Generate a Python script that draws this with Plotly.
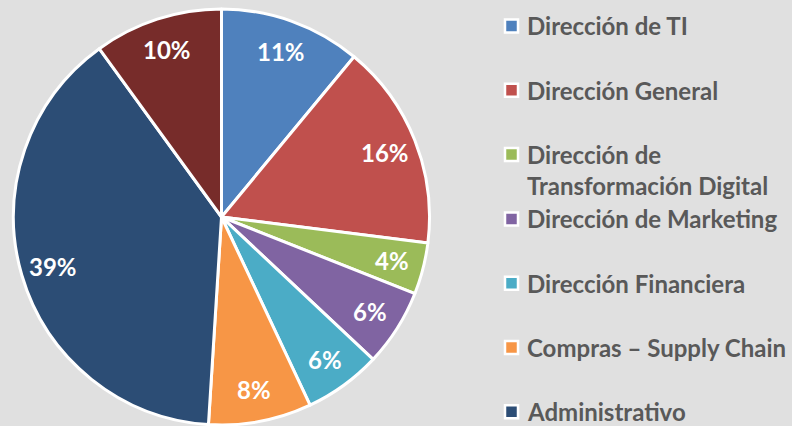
import math
import plotly.graph_objects as go

labels = [
    "Dirección de TI",
    "Dirección General",
    "Dirección de\nTransformación Digital",
    "Dirección de Marketing",
    "Dirección Financiera",
    "Compras – Supply Chain",
    "Administrativo",
    "Otros",
]
values = [11, 16, 4, 6, 6, 8, 39, 10]
colors = ["#4F81BD", "#C0504D", "#9BBB59", "#8064A2", "#4BACC6", "#F79646", "#2C4D75", "#772C2A"]

W, H = 792, 426
BG = "#e0e0e0"
FONT = "Lato"

# pie placement in pixels
cx, cy, r = 221.5, 217, 208
label_r = 0.845  # Excel puts the % labels near the rim

fig = go.Figure()
fig.add_trace(go.Pie(
    labels=[l.replace("\n", " ") for l in labels],
    values=values,
    sort=False,
    direction="clockwise",
    rotation=0,
    marker=dict(colors=colors, line=dict(color="white", width=3)),
    textinfo="none",
    domain=dict(x=[(cx - r) / W, (cx + r) / W], y=[(H - cy - r) / H, (H - cy + r) / H]),
    showlegend=False,
    hoverinfo="label+percent",
))

# percent labels, placed at each slice's mid angle
total = sum(values)
cum = 0
for v in values:
    ang = 2 * math.pi * (cum + v / 2) / total
    cum += v
    px = cx + label_r * r * math.sin(ang)
    py = cy - label_r * r * math.cos(ang)
    fig.add_annotation(
        x=px / W, y=1 - py / H, xref="paper", yref="paper",
        xanchor="center", yanchor="middle", showarrow=False,
        text=f"{round(100 * v / total)}%",
        font=dict(family=FONT, size=24, color="white", weight="bold"),
    )

# legend drawn by hand: Excel spacing, last entry falls off the canvas
row0, row_gap, line_gap = 26, 64.3, 31
sq = 13
for i, (lab, col) in enumerate(zip(labels, colors)):
    ypx = row0 + i * row_gap
    if ypx > H:
        break
    fig.add_shape(
        type="rect", xref="paper", yref="paper",
        x0=505 / W, x1=(505 + sq) / W,
        y0=1 - (ypx + sq / 2) / H, y1=1 - (ypx - sq / 2) / H,
        fillcolor=col, line=dict(color="white", width=2.5),
    )
    for j, part in enumerate(lab.split("\n")):
        fig.add_annotation(
            x=525 / W, y=1 - (ypx + j * line_gap) / H,
            xref="paper", yref="paper",
            xanchor="left", yanchor="middle",
            text=part, showarrow=False,
            font=dict(family=FONT, size=24, color="#595959", weight="bold"),
        )

fig.update_layout(
    width=W, height=H,
    margin=dict(l=0, r=0, t=0, b=0),
    paper_bgcolor=BG,
    plot_bgcolor=BG,
)

fig.write_html(
    "out.html",
    config={"displayModeBar": False},
    post_script="document.body.style.margin='0px';",
)
